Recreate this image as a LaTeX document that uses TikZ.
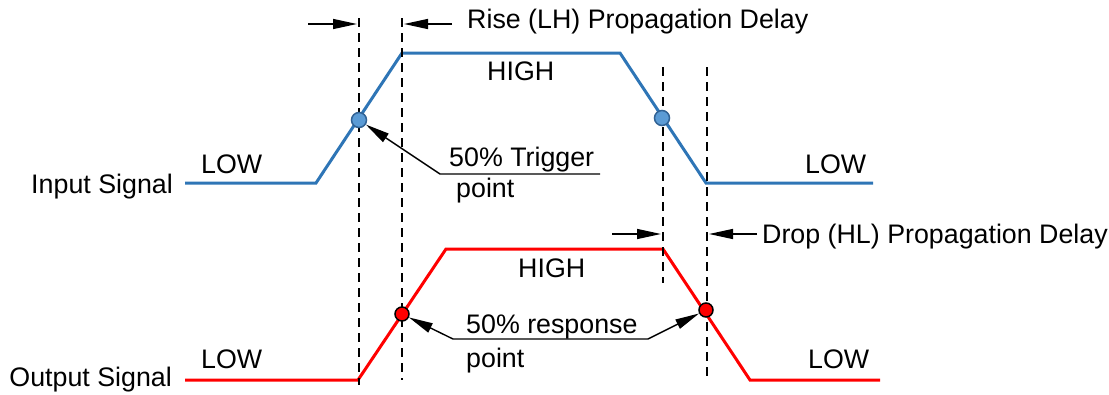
\documentclass[tikz,border=0pt]{standalone}
\usepackage{fontspec}
\setmainfont{Liberation Sans}
\usetikzlibrary{arrows.meta}
\definecolor{inblue}{RGB}{46,117,182}
\definecolor{dotblue}{RGB}{91,155,213}
\definecolor{dotedge}{RGB}{49,98,148}
\begin{document}
\begin{tikzpicture}[x=1pt, y=-1pt, font=\fontsize{26.8}{31}\selectfont,
  sig/.style={line width=3pt, line join=miter},
  guide/.style={black, line width=1.8pt, dash pattern=on 9pt off 6pt},
  pointer/.style={line width=1.4pt, -{Triangle[length=24pt,width=10pt]}},
  lbl/.style={anchor=base west, inner sep=0pt},
  lblr/.style={anchor=base east, inner sep=0pt},
  sigdot/.style={circle, inner sep=0pt, minimum size=15pt, line width=1.5pt}]
\useasboundingbox (0,0) rectangle (1109,394);

% waveforms
\draw[sig, inblue] (185,183) coordinate (i0) -- (316,183) coordinate (i1)
  -- (402,53) coordinate (i2) -- (620,53) coordinate (i3)
  -- (706,183) coordinate (i4) -- (873,183) coordinate (i5);
\draw[sig, red] (185,380) coordinate (o0) -- (358,380) coordinate (o1)
  -- (446,249) coordinate (o2) -- (663,249) coordinate (o3)
  -- (750,380) coordinate (o4) -- (880,380) coordinate (o5);

% dashed reference lines
\coordinate (g1t) at (359,18);  \coordinate (g1b) at (359,385);
\coordinate (g2t) at (402,18);  \coordinate (g2b) at (402,380);
\coordinate (g3t) at (663,67);  \coordinate (g3b) at (663,283);
\coordinate (g4t) at (707,67);  \coordinate (g4b) at (707,380);
\draw[guide] (g1t) -- (g1b);
\draw[guide] (g2t) -- (g2b);
\draw[guide] (g3t) -- (g3b);
\draw[guide] (g4t) -- (g4b);

% 50% points
\node[sigdot, fill=dotblue, draw=dotedge] (bdotL) at (359,120) {};
\node[sigdot, fill=dotblue, draw=dotedge] (bdotR) at (662,118) {};
\node[sigdot, minimum size=14pt, fill=red, draw=black] (rdotL) at (402,314) {};
\node[sigdot, minimum size=14pt, fill=red, draw=black] (rdotR) at (706,310) {};

% propagation delay markers
\coordinate (a1s) at (308,24);  \coordinate (a1e) at (357,24);
\coordinate (a2s) at (452,24);  \coordinate (a2e) at (404,24);
\coordinate (a3s) at (612,234); \coordinate (a3e) at (661,234);
\coordinate (a4s) at (757,234); \coordinate (a4e) at (709,234);
\draw[pointer] (a1s) -- (a1e);
\draw[pointer] (a2s) -- (a2e);
\draw[pointer] (a3s) -- (a3e);
\draw[pointer] (a4s) -- (a4e);

% leader lines
\coordinate (tk0) at (600,174); \coordinate (tk1) at (440,174);
\draw[pointer] (tk0) -- (tk1) -- (bdotL);
\coordinate (rk0) at (453,339); \coordinate (rk1) at (648,339);
\draw[line width=1.4pt, {Triangle[length=24pt,width=10pt]}-{Triangle[length=24pt,width=10pt]}]
  (rdotL) -- (rk0) -- (rk1) -- (rdotR);

% labels
\node[lbl] (trise) at (467,28) {Rise (LH) Propagation Delay};
\node[lbl] (tdrop) at (762,243) {Drop (HL) Propagation Delay};
\node[lbl] (hin) at (487,80) {HIGH};
\node[lbl] (hout) at (518,277) {HIGH};
\node[lbl] (lin1) at (201,173) {LOW};
\node[lbl] (lin2) at (805,173) {LOW};
\node[lbl] (lout1) at (201,368) {LOW};
\node[lbl] (lout2) at (808,368) {LOW};
\node[lblr] (tin) at (173,193) {Input Signal};
\node[lblr] (tout) at (172,386) {Output Signal};
\node[lbl] (trig1) at (449,166) {50\% Trigger};
\node[lbl] (trig2) at (456,197) {point};
\node[lbl] (resp1) at (466,333) {50\% response};
\node[lbl] (resp2) at (466,367) {point};
\end{tikzpicture}
\end{document}
